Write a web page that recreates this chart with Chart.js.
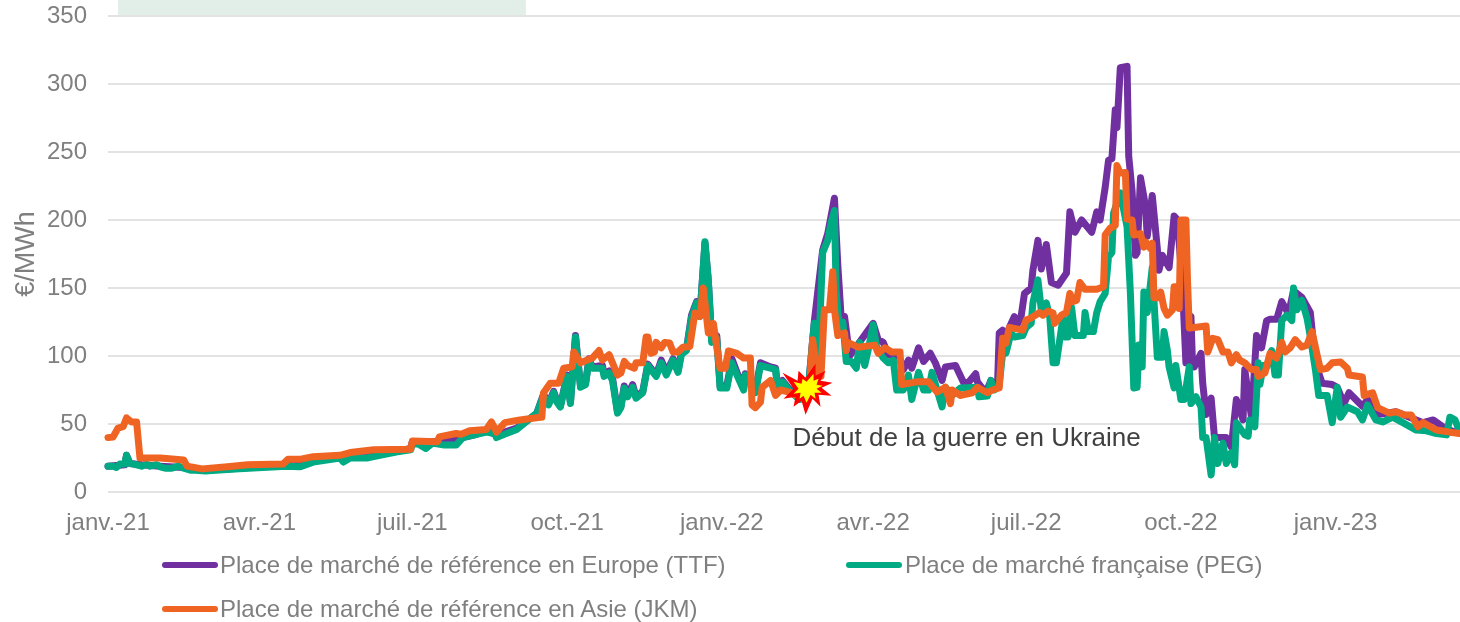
<!DOCTYPE html>
<html><head><meta charset="utf-8">
<style>
html,body{margin:0;padding:0;background:#fff;width:1460px;height:622px;overflow:hidden}
#wrap{position:relative;width:1460px;height:622px}
canvas{display:block}
.lg{position:absolute;font:24px "Liberation Sans",Arial,sans-serif;color:#7f7f7f;white-space:nowrap;line-height:28px}
.sw{position:absolute;width:56px;height:6px;border-radius:3px}
</style>
<script src="https://cdn.jsdelivr.net/npm/chart.js@4/dist/chart.umd.min.js"></script>
</head><body>
<div id="wrap"><canvas id="c" width="1460" height="622"></canvas></div>
<script>
const tickDays=[0,90,181,273,365,455,546,638,730];
const tickLabels=['janv.-21','avr.-21','juil.-21','oct.-21','janv.-22','avr.-22','juil.-22','oct.-22','janv.-23'];
const names=['Place de marché de référence en Europe (TTF)','Place de marché française (PEG)','Place de marché de référence en Asie (JKM)'];

const ttfDays=[0,10,11,13,20,31,45,58,78,106,122,138,144,158,172,180,181,193,207,218,225,231,243,251,255,259,262,265,267,269,273,275,278,281,284,286,288,294,295,298,300,303,305,307,309,312,314,318,321,326,329,332,336,339,341,344,347,350,352,355,357,359,362,364,368,371,374,378,379,382,385,388,394,397,398,401,405,411,416,420,425,428,432,434,436,438,441,455,458,461,464,470,473,476,478,482,485,489,492,496,498,504,509,512,516,517,522,525,527,529,530,532,534,536,539,541,543,545,549,550,553,555,558,561,565,570,572,575,579,585,588,590,593,595,597,599,600,602,606,607,609,611,612,614,617,618,621,624,625,627,631,634,636,639,641,643,644,645,646,650,651,653,656,658,662,665,668,671,675,676,680,683,686,689,691,695,698,702,705,710,715,718,722,728,731,735,738,746,749,755,766,774,782,788,796,804];
const ttfVals=[19,20,27,21,20,19,18,16,17.5,20,23,26,26,27,30,32,37,37,39,42,45,42,47,54,58,72,65,74,67,63,86,66,115,78,80,98,92,93,87,89,84,59,63,78,71,79,70,74,94,86,97,88,98,89,103,105,130,140,130,183,155,112,115,78,78,98,88,76,87,82,75,95,92,91,79,82,76,69,70,125,178,190,216,167,128,129,100,124,112,110,101,101,90,97,91,106,96,102,95,82,92,93,80,81,87,81,73,82,77,80,117,119,107,121,129,124,129,146,150,163,185,164,182,154,152,161,206,191,200,191,206,200,224,244,245,281,268,312,313,247,221,174,176,231,210,188,218,179,163,174,165,203,200,150,95,128,129,92,92,102,80,57,69,40,40,40,33,68,53,90,55,115,106,126,127,127,140,131,148,143,132,95,80,79,77,65,73,63,68,57,59,55,51,53,46,43];

const pegDays=[0,3,5,7,10,11,13,17,20,23,25,29,31,34,38,42,45,49,52,58,64,78,106,114,122,138,140,144,154,158,172,180,181,185,189,193,200,207,211,225,230,231,235,243,251,255,259,262,265,267,269,273,275,278,281,284,286,288,294,295,298,300,303,305,307,309,312,314,318,321,326,329,332,336,339,341,344,347,350,352,355,357,359,362,364,368,371,374,378,379,382,385,388,394,397,398,401,405,411,416,420,422,425,428,430,432,433,435,437,439,442,445,447,450,452,455,457,461,464,467,469,473,476,478,482,485,488,490,493,496,498,502,507,517,518,523,525,527,530,532,534,537,539,544,546,549,550,553,555,558,560,562,564,568,569,571,573,575,580,581,583,586,588,590,593,595,597,598,602,606,608,610,612,613,615,616,618,621,622,624,627,628,630,631,634,635,638,640,643,644,647,650,651,653,656,658,660,663,665,668,670,671,676,678,679,682,684,685,687,689,692,694,696,698,701,704,705,707,710,713,715,718,720,725,728,731,733,737,743,746,749,754,758,764,770,778,784,790,796,798,801,804];
const pegVals=[19,19,18,20.5,20.5,27,21,20,19,20.5,19,20,18.5,17.5,17.5,19,17.5,16,16,15.5,16,17,19,18.5,22,25,22,25,25,26,29.5,31,36,35,32,36,34.5,34.5,40,44,43,40,42,46,54,58,71,64,73,66,62.5,85,65,114,77,79,97,91,91,85,87.5,82,58,62,76.5,70,77,69,73,93,85,95,86,97,88,101,104,128,139,129,184,156,110,113,76.5,76.5,95,86,75,86,81,73,93,91,90,77,81,75,68,69,124,85,176,185,198,207,148.5,117,125,96,96,91,110,93,104,123,107,98.5,95,97,75,75,86,68,88,75,75,88,75,62.5,77,71,76.5,77,70,70.5,82,75,79,102,102,117,114,115,121,124,139,156,134,139,129,95,95,129,114,114,136,115,115,132,118,118,132,140,146,173,176,205,220,195,146,76.5,77,108,92,147,132,165,141,99,99,118,104,92,76.5,93,68,68,92,65,70,62.5,40,40,12.5,40,21,36,21,29,20,51,42,41,53,48,95,79,93,92,104,86,86,126,130,126,150,134,141,128,114,90,71,71,51,77,55,62.5,59,53,64,53,51.5,55,51,45.5,45,43,42,55,53,44];

const jkmDays=[0,3,6,9,11,14,17,19,31,45,47,56,71,83,104,107,114,122,138,144,158,180,181,196,197,207,210,215,225,228,230,231,236,245,257,258,259,263,268,271,276,277,281,288,292,294,298,303,305,307,309,313,314,318,320,321,323,325,326,329,331,334,336,339,342,346,349,352,354,357,359,360,362,364,367,369,374,378,382,383,385,388,389,394,397,400,405,411,417,419,422,424,426,429,431,432,434,438,439,440,446,456,458,462,466,471,472,481,488,493,498,501,502,507,514,517,523,526,530,532,534,536,544,546,549,554,556,559,562,563,567,570,572,574,576,578,581,588,592,593,596,599,600,602,605,606,609,610,614,616,617,620,621,622,624,626,628,630,633,634,636,637,638,641,642,643,646,653,654,657,660,663,666,668,671,673,676,680,683,684,688,691,695,698,700,703,706,710,713,716,719,721,725,728,733,737,738,746,747,752,755,762,766,771,775,779,782,790,798,804];
const jkmVals=[40,40.5,47,48,54.5,51.5,51.5,25,25,23.5,19,17,18.5,20,20.5,24,24,26,27,29,31,31.5,37.5,37,40.5,43,42.5,45,46,51.5,47,44,51,53,55,55,73,80,80,91,92,103,95,98.5,104,97,101,86,87.5,96,93,91,95,95,114,114,102,103,110,106,110,109.5,103,103,106.5,107,131.6,129,150,117,117,124,106.5,91,91,103.7,102,98.5,98.5,64,62,66,77,82,71,75,73.5,70,71,112,85,85,134,134,162,134,115,117,104,110,106.5,108,102,106,103,103,79,81,81,73.5,77,65,75,71,73,77,73,75,76.5,113,109.5,121,119,126.5,128,132,130,133,131.6,124,130,132,146,140,141,154,149,149,151,189,194,196,240,234.5,235,200.7,200,189,190,180,184,179,183,143,142.6,147,135,130,134,151,151,135,200,200,154,120.6,121,122,103,113,112,103,103,95,101,97,95,90,90,85,87.5,102,98.5,110,103,106,112,106.6,108,118,101,90,91,95,95.6,91,86,84.5,71,73,62,58,59,56.6,56.6,48,51,45.6,44,43];

const series=[
 {name:names[0],days:ttfDays,vals:ttfVals,color:'#7030a0',order:3},
 {name:names[1],days:pegDays,vals:pegVals,color:'#00ab84',order:2},
 {name:names[2],days:jkmDays,vals:jkmVals,color:'#f06423',order:1}
];

const FONT='"Liberation Sans",Arial,sans-serif';
const starOuter=[[8,-25],[8,-13],[18,-18],[13,-8],[25,-6],[14,-1],[24,7],[11,6],[13,18],[5,10],[-2,26],[-6,12],[-14,18],[-12,8],[-24,10],[-14,0],[-25,-16],[-10,-8],[-9,-18],[-2,-11]];
const starInner=[[6,-15],[6,-8],[11,-10],[9,-4],[15,-3],[9,0],[14,4],[7,4],[8,10],[3,6],[-1,14],[-4,7],[-8,10],[-7,4],[-14,5],[-9,0],[-14,-7],[-6,-5],[-5,-10],[-1,-7]];
const eventDay=416, eventVal=76, noteDay=407, noteVal=39;
const stripFrom=6, stripTo=248.5;

function poly(ctx,cx,cy,pts,color){
  ctx.beginPath();
  pts.forEach((p,i)=>i?ctx.lineTo(cx+p[0],cy+p[1]):ctx.moveTo(cx+p[0],cy+p[1]));
  ctx.closePath();ctx.fillStyle=color;ctx.fill();
}
const decor={
  id:'decor',
  beforeDraw(ch){
    const x=ch.scales.x,c=ch.ctx,a=ch.chartArea;
    c.save();c.fillStyle='#e1efe8';
    c.fillRect(x.getPixelForValue(stripFrom),0,x.getPixelForValue(stripTo)-x.getPixelForValue(stripFrom),a.top-1);
    c.restore();
  },
  afterDatasetsDraw(ch){
    const x=ch.scales.x,y=ch.scales.y,c=ch.ctx;
    c.save();
    const cx=x.getPixelForValue(eventDay),cy=y.getPixelForValue(eventVal);
    poly(c,cx,cy,starOuter,'#ff0000');
    poly(c,cx,cy,starInner,'#ffff00');
    c.fillStyle='#404040';c.font='26px '+FONT;c.textAlign='left';c.textBaseline='middle';
    c.fillText('Début de la guerre en Ukraine',x.getPixelForValue(noteDay),y.getPixelForValue(noteVal));
    c.restore();
  }
};

new Chart(document.getElementById('c'),{
  type:'line',
  data:{datasets:series.map(s=>({
    label:s.name,
    data:s.days.map((d,i)=>({x:d,y:s.vals[i]})),
    borderColor:s.color,backgroundColor:s.color,borderWidth:7,
    pointRadius:0,tension:0,borderJoinStyle:'round',borderCapStyle:'round',order:s.order,clip:false
  }))},
  options:{
    responsive:false,animation:false,
    layout:{padding:{top:0,right:0,left:0,bottom:0}},
    plugins:{legend:{display:false},tooltip:{enabled:false}},
    scales:{
      x:{type:'linear',min:0,max:804,
        afterBuildTicks(s){s.ticks=tickDays.map(v=>({value:v}));},
        afterFit(s){s.height=130;},
        grid:{display:false,drawTicks:false},border:{display:false},
        ticks:{autoSkip:false,maxRotation:0,padding:17,color:'#7f7f7f',font:{family:FONT,size:24},
          callback:(v)=>tickLabels[tickDays.indexOf(v)]}},
      y:{min:0,max:350,
        afterFit(s){s.width=108;s.paddingTop=16;s.paddingBottom=0;},
        grid:{color:'#e3e3e3',lineWidth:2,drawTicks:false},border:{display:false},
        title:{display:true,text:'€/MWh',color:'#7f7f7f',font:{family:FONT,size:27},padding:{top:10,bottom:0}},
        ticks:{stepSize:50,padding:21,color:'#7f7f7f',font:{family:FONT,size:24}}}
    }
  },
  plugins:[decor]
});

const legendPos=[[162,220,565],[846,905,565],[162,220,609]];
const wrap=document.getElementById('wrap');
series.forEach((s,i)=>{
  const [sx,tx,cy]=legendPos[i];
  const sw=document.createElement('div');sw.className='sw';sw.style.cssText=`left:${sx}px;top:${cy-3}px;background:${s.color}`;
  const t=document.createElement('div');t.className='lg';t.textContent=s.name;t.style.cssText=`left:${tx}px;top:${cy-14}px`;
  wrap.appendChild(sw);wrap.appendChild(t);
});
</script>
</body></html>
